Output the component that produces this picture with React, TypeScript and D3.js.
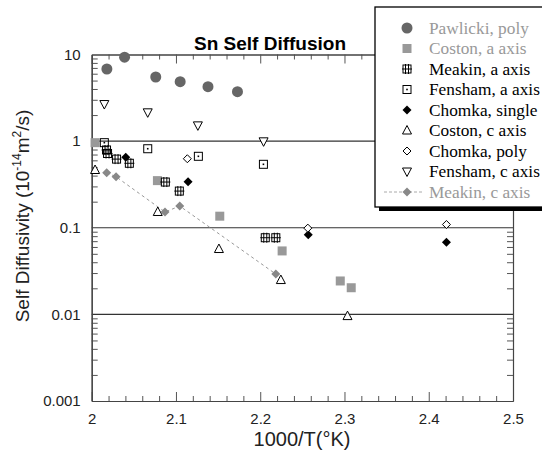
import React, { useEffect, useRef } from 'react';
import * as d3 from 'd3';

// values (x = 1000/T, y = D in 1e-14 m2/s)
const pawlickiX = [2.018, 2.039, 2.076, 2.105, 2.138, 2.173];
const pawlickiY = [6.8, 9.3, 5.5, 4.85, 4.25, 3.72];

const costonAX = [2.004, 2.078, 2.152, 2.226, 2.295, 2.308];
const costonAY = [0.96, 0.35, 0.136, 0.054, 0.0243, 0.0203];

const meakinAX = [2.0176, 2.0188, 2.0295, 2.0447, 2.0874, 2.104, 2.206, 2.2185];
const meakinAY = [0.79, 0.72, 0.62, 0.555, 0.337, 0.265, 0.0767, 0.0767];

const fenshamAX = [2.015, 2.0665, 2.1266, 2.2038];
const fenshamAY = [0.96, 0.817, 0.668, 0.54];

const chomkaSX = [2.0404, 2.1144, 2.257, 2.421];
const chomkaSY = [0.65, 0.34, 0.083, 0.0678];

const costonCX = [2.004, 2.0784, 2.151, 2.2245, 2.3036];
const costonCY = [0.464, 0.152, 0.0568, 0.0249, 0.00955];

const chomkaPX = [2.1135, 2.2565, 2.421];
const chomkaPY = [0.626, 0.099, 0.109];

const fenshamCX = [2.015, 2.0665, 2.126, 2.204];
const fenshamCY = [2.68, 2.15, 1.52, 0.995];

const meakinCX = [2.0178, 2.0289, 2.087, 2.1045, 2.2185];
const meakinCY = [0.431, 0.388, 0.152, 0.178, 0.0292];

const xTicks = [2, 2.1, 2.2, 2.3, 2.4, 2.5];
const yTicks = [0.001, 0.01, 0.1, 1, 10];
const gridValues = [0.01, 0.1, 1];

const seriesNames = [
  'Pawlicki, poly',
  'Coston, a axis',
  'Meakin, a axis',
  'Fensham, a axis',
  'Chomka, single',
  'Coston, c axis',
  'Chomka, poly',
  'Fensham, c axis',
  'Meakin, c axis',
];
const seriesMarkers = ['circle', 'squareFill', 'grid', 'squareDot', 'diamondFill', 'triUp', 'diamondOpen', 'triDown', 'diamondGrey'];
const seriesXs = [pawlickiX, costonAX, meakinAX, fenshamAX, chomkaSX, costonCX, chomkaPX, fenshamCX, meakinCX];
const seriesYs = [pawlickiY, costonAY, meakinAY, fenshamAY, chomkaSY, costonCY, chomkaPY, fenshamCY, meakinCY];
const greyText = ['Pawlicki, poly', 'Coston, a axis', 'Meakin, c axis'];

const SANS = '"Liberation Sans", Arial, sans-serif';
const SERIF = '"Liberation Serif", "Times New Roman", serif';

function drawMarker(g: any, type: string, cx: number, cy: number) {
  if (type === 'circle') {
    g.append('circle').attr('cx', cx).attr('cy', cy).attr('r', 5.5).attr('fill', '#666');
  } else if (type === 'squareFill') {
    g.append('rect').attr('x', cx - 4.5).attr('y', cy - 4.5).attr('width', 9).attr('height', 9).attr('fill', '#999');
  } else if (type === 'grid') {
    const s = 4;
    g.append('rect').attr('x', cx - s).attr('y', cy - s).attr('width', 2 * s).attr('height', 2 * s)
      .attr('fill', 'none').attr('stroke', '#000').attr('stroke-width', 1);
    g.append('path')
      .attr('d', `M${cx - 1.5},${cy - s - 1}V${cy + s + 1}M${cx + 1.5},${cy - s - 1}V${cy + s + 1}M${cx - s - 1},${cy}H${cx + s + 1}`)
      .attr('stroke', '#000').attr('stroke-width', 1);
  } else if (type === 'squareDot') {
    g.append('rect').attr('x', cx - 4).attr('y', cy - 4).attr('width', 8).attr('height', 8)
      .attr('fill', 'none').attr('stroke', '#000').attr('stroke-width', 1);
    g.append('rect').attr('x', cx - 0.8).attr('y', cy - 0.8).attr('width', 1.6).attr('height', 1.6).attr('fill', '#000');
  } else if (type === 'diamondFill' || type === 'diamondOpen' || type === 'diamondGrey') {
    const r = type === 'diamondOpen' ? 4 : 4.5;
    const p = g.append('path').attr('d', `M${cx},${cy - r}L${cx + r},${cy}L${cx},${cy + r}L${cx - r},${cy}Z`);
    if (type === 'diamondFill') p.attr('fill', '#000');
    else if (type === 'diamondGrey') p.attr('fill', '#888');
    else p.attr('fill', '#fff').attr('stroke', '#000').attr('stroke-width', 1);
  } else if (type === 'triUp') {
    g.append('path').attr('d', `M${cx},${cy - 5}L${cx + 4.5},${cy + 3.5}L${cx - 4.5},${cy + 3.5}Z`)
      .attr('fill', '#fff').attr('stroke', '#000').attr('stroke-width', 1);
  } else if (type === 'triDown') {
    g.append('path').attr('d', `M${cx},${cy + 5}L${cx + 4.5},${cy - 3.5}L${cx - 4.5},${cy - 3.5}Z`)
      .attr('fill', '#fff').attr('stroke', '#000').attr('stroke-width', 1);
  }
}

export default function App() {
  const ref = useRef<SVGSVGElement>(null);

  useEffect(() => {
    const svg = d3.select(ref.current);
    svg.selectAll('*').remove();

    const left = 91.7, right = 513, top = 54.5, bottom = 401;
    const x = d3.scaleLinear().domain([2, 2.5]).range([left, right]);
    const y = d3.scaleLog().domain([0.001, 10]).range([bottom, top]);

    const minorX = d3.range(2, 2.5001, 0.02).filter(v => Math.abs(v * 10 - Math.round(v * 10)) > 1e-6);
    const minorY: number[] = [];
    [0.001, 0.01, 0.1, 1].forEach(d => { for (let k = 2; k <= 9; k++) minorY.push(d * k); });

    // gridlines
    svg.append('g').selectAll('line').data(gridValues).enter().append('line')
      .attr('x1', left).attr('x2', right)
      .attr('y1', d => y(d)).attr('y2', d => y(d))
      .attr('stroke', '#333').attr('stroke-width', 1.1);

    const styleAxis = (g: any) => {
      g.selectAll('.domain').attr('stroke', '#444').attr('stroke-width', 1.2);
      g.selectAll('.tick line').attr('stroke', '#555');
      g.selectAll('.tick text').attr('font-family', SANS).attr('font-size', 15).attr('fill', '#222');
    };

    // bottom axis
    svg.append('g').attr('transform', `translate(0,${bottom})`)
      .call(d3.axisBottom(x).tickValues(minorX).tickSizeInner(-5).tickSizeOuter(0).tickFormat(() => ''))
      .call(styleAxis);
    svg.append('g').attr('transform', `translate(0,${bottom})`)
      .call(d3.axisBottom(x).tickValues(xTicks).tickSizeInner(-9).tickSizeOuter(0).tickPadding(12)
        .tickFormat(d => String(d)))
      .call(styleAxis);

    // top axis
    svg.append('g').attr('transform', `translate(0,${top})`)
      .call(d3.axisTop(x).tickValues(minorX).tickSizeInner(-5).tickSizeOuter(0).tickFormat(() => ''))
      .call(styleAxis);
    svg.append('g').attr('transform', `translate(0,${top})`)
      .call(d3.axisTop(x).tickValues(xTicks).tickSizeInner(-9).tickSizeOuter(0).tickFormat(() => ''))
      .call(styleAxis);

    // left axis
    svg.append('g').attr('transform', `translate(${left},0)`)
      .call(d3.axisLeft(y).tickValues(minorY).tickSizeInner(-6).tickSizeOuter(0).tickFormat(() => ''))
      .call(styleAxis);
    svg.append('g').attr('transform', `translate(${left},0)`)
      .call(d3.axisLeft(y).tickValues(yTicks).tickSizeInner(0).tickSizeOuter(0).tickPadding(11)
        .tickFormat(d => String(d)))
      .call(styleAxis);

    // right axis
    svg.append('g').attr('transform', `translate(${right},0)`)
      .call(d3.axisRight(y).tickValues(minorY).tickSizeInner(-6).tickSizeOuter(0).tickFormat(() => ''))
      .call(styleAxis);

    // Meakin c axis dashed line
    const meakinCLine = d3.line<number>().x((d, i) => x(meakinCX[i])).y(d => y(d));
    svg.append('path').attr('d', meakinCLine(meakinCY))
      .attr('fill', 'none').attr('stroke', '#999').attr('stroke-width', 1).attr('stroke-dasharray', '3,3');

    // markers
    const marks = svg.append('g');
    seriesNames.forEach((name, s) => {
      seriesXs[s].forEach((xv, i) => drawMarker(marks, seriesMarkers[s], x(xv), y(seriesYs[s][i])));
    });

    // title
    svg.append('text').attr('x', 270).attr('y', 50).attr('text-anchor', 'middle')
      .attr('font-family', SANS).attr('font-weight', 'bold').attr('font-size', 19)
      .text('Sn Self Diffusion');

    // axis titles
    svg.append('text').attr('x', 302).attr('y', 446).attr('text-anchor', 'middle')
      .attr('font-family', SANS).attr('font-size', 20).attr('fill', '#222')
      .text('1000/T(°K)');

    const yt = svg.append('text').attr('transform', 'translate(29,216) rotate(-90)')
      .attr('text-anchor', 'middle').attr('font-family', SANS).attr('font-size', 19).attr('fill', '#222');
    yt.append('tspan').text('Self Diffusivity (10');
    yt.append('tspan').attr('font-size', 12).attr('dy', -8).text('-14');
    yt.append('tspan').attr('dy', 8).text('m');
    yt.append('tspan').attr('font-size', 12).attr('dy', -8).text('2');
    yt.append('tspan').attr('dy', 8).text('/s)');

    // legend
    const lg = svg.append('g');
    lg.append('rect').attr('x', 379).attr('y', 11).attr('width', 200).attr('height', 200).attr('fill', '#000');
    lg.append('rect').attr('x', 375).attr('y', 7).attr('width', 200).attr('height', 200)
      .attr('fill', '#fff').attr('stroke', '#000').attr('stroke-width', 1.3);
    seriesNames.forEach((name, i) => {
      const cy = 28 + i * 20.5;
      if (seriesMarkers[i] === 'diamondGrey') {
        lg.append('line').attr('x1', 384).attr('x2', 422).attr('y1', cy).attr('y2', cy)
          .attr('stroke', '#aaa').attr('stroke-width', 1).attr('stroke-dasharray', '3,2');
      }
      drawMarker(lg, seriesMarkers[i], 407, cy);
      lg.append('text').attr('x', 429).attr('y', cy + 5.5)
        .attr('font-family', SERIF).attr('font-size', 17.3)
        .attr('fill', greyText.includes(name) ? '#999' : '#000')
        .text(name);
    });
  }, []);

  return (
    <svg
      ref={ref}
      width={542}
      height={455}
      viewBox="0 0 542 455"
      style={{ position: 'absolute', left: 0, top: 0, background: '#fff' }}
    />
  );
}
